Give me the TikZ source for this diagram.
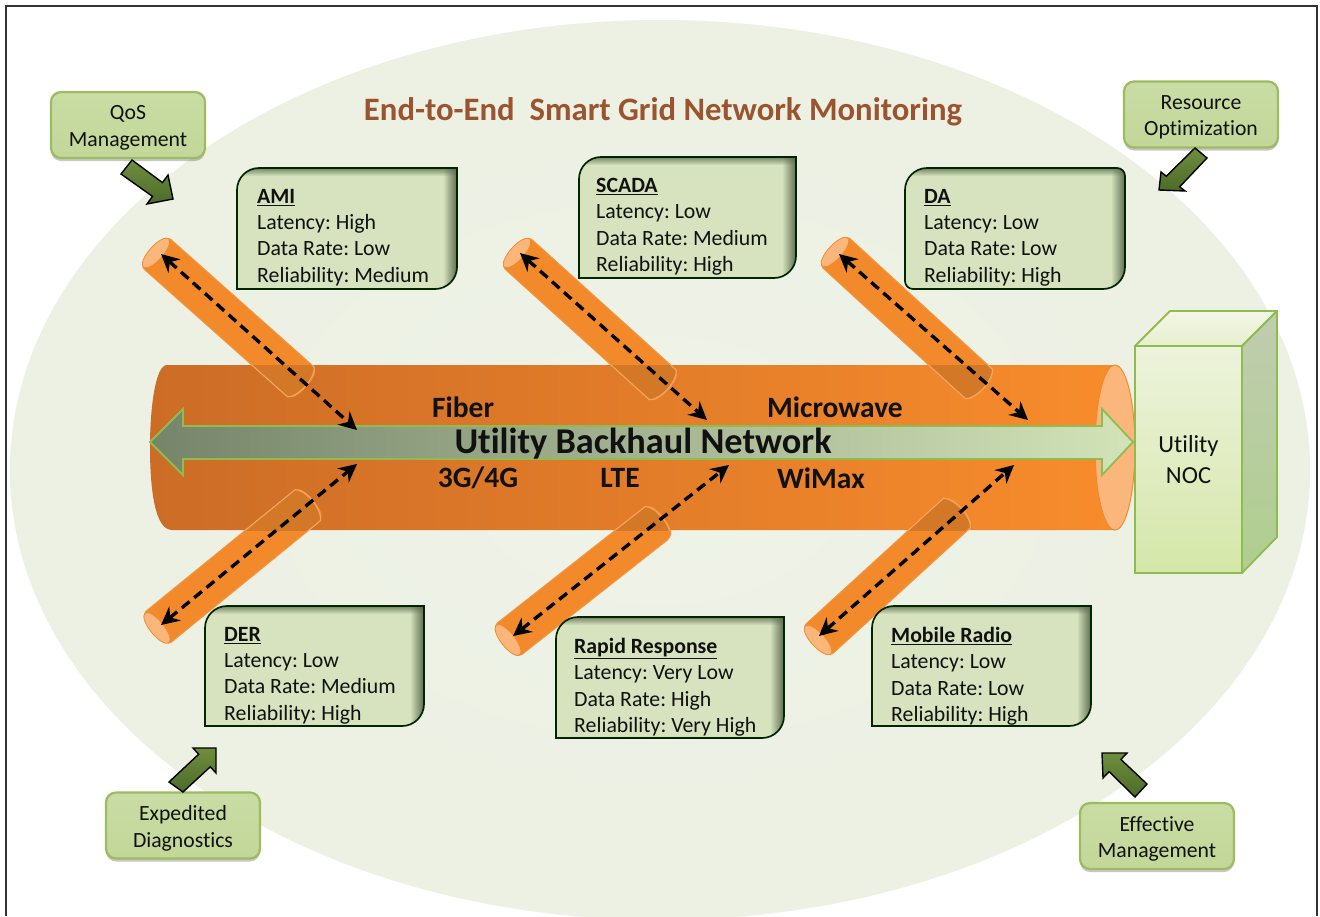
\documentclass[tikz,border=0pt]{standalone}
\usepackage{fontspec}
\setmainfont[Ligatures=NoCommon]{Carlito}
\usetikzlibrary{arrows.meta,shadows,calc,fadings}
\definecolor{pipeL}{HTML}{CC6C26}
\definecolor{pipeM}{HTML}{E67F2A}
\definecolor{pipeR}{HTML}{F88C2C}
\definecolor{capc}{HTML}{FBB67C}
\definecolor{tubec}{HTML}{F28A2C}
\definecolor{tubeedge}{HTML}{F6A660}
\definecolor{boxfill}{HTML}{D6E3BE}
\definecolor{boxdark}{HTML}{5E6B50}
\definecolor{gfill}{HTML}{C3D799}
\definecolor{gfilltop}{HTML}{C9DCA4}
\definecolor{gedge}{HTML}{9DBB61}
\definecolor{titlec}{HTML}{9A5530}
\definecolor{arrowedge}{HTML}{8FBC4F}
\definecolor{textc}{HTML}{111111}
\definecolor{arrL}{HTML}{76856A}
\definecolor{arrM}{HTML}{A8B896}
\definecolor{arrR}{HTML}{D2E3B8}
\definecolor{haloA}{HTML}{EFF3E8}
\definecolor{haloB}{HTML}{EBF0E2}
\definecolor{haloC}{HTML}{E6EDD9}
\definecolor{nocTopA}{HTML}{F3F7E8}
\definecolor{nocTopB}{HTML}{E6EFCF}
\definecolor{nocSideA}{HTML}{C0CCB0}
\definecolor{nocSideB}{HTML}{AFCE8F}
\definecolor{nocFrontA}{HTML}{EDF3DC}
\definecolor{nocFrontB}{HTML}{D5E7A9}
\definecolor{gaDark}{HTML}{4C6B28}
\definecolor{gaLight}{HTML}{6E8E3E}
\pgfdeclareradialshading{halo}{\pgfpoint{0bp}{0bp}}{
  color(0bp)=(haloA);
  color(30bp)=(haloB);
  color(43bp)=(haloC);
  color(50bp)=(white);
  color(100bp)=(white)}
\tikzset{
  x=1pt,y=-1pt,
  lbl/.style={font=\fontsize{29.5}{32}\selectfont\bfseries,text=textc,inner sep=0pt},
  notebox/.style={draw=gedge,line width=2.2pt,rounded corners=10pt,top color=gfilltop,bottom color=gfill,
     minimum width=154pt,minimum height=66pt,inner sep=0pt,
     general shadow={shadow xshift=0pt,shadow yshift=-3pt,fill=black,opacity=.22}},
  notetext/.style={align=center,inner sep=0pt,text=textc,yshift=-3pt,font=\fontsize{21.7}{26.5}\selectfont},
  dasharrow/.style={line width=3.4pt,dash pattern=on 10pt off 6pt,black,
     {Stealth[length=18pt,width=18pt,inset=6pt]}-{Stealth[length=18pt,width=18pt,inset=6pt]}},
  infotext/.style={anchor=north west,align=left,inner sep=0pt,text=textc,font=\fontsize{21.8}{26.3}\selectfont},
  garrow/.style={draw=black,line width=1.4pt,line join=miter,top color=gaLight,bottom color=gaDark}
}
% tube: x0 y0 x1 y1
\newcommand\tube[4]{%
  \pgfmathsetmacro\tubeang{atan2(#4-#2,#3-#1)}%
  \pgfmathsetmacro\tubelen{veclen(#3-#1,#4-#2)}%
  \begin{scope}[shift={(#1,#2)},rotate=-\tubeang]
    \draw[tubec!90!white,line width=1pt,fill=tubec,rounded corners=4pt] (-2,-20) -- (\tubelen,-20)
       .. controls (\tubelen+8,-12) and (\tubelen+8,12) .. (\tubelen,20) -- (-2,20) -- cycle;
    \draw[tubec,line width=.8pt,fill=capc] (0,0) ellipse (7 and 19);
  \end{scope}
  \begin{scope}
    \clip (150,365) rectangle (1135,530);
    \begin{scope}[shift={(#1,#2)},rotate=-\tubeang]
      \fill[black,opacity=.13] (0,-20) -- (\tubelen,-20)
       .. controls (\tubelen+8,-12) and (\tubelen+8,12) .. (\tubelen,20) -- (0,20) -- cycle;
      \draw[tubeedge,line width=1pt] (0,-20) -- (\tubelen,-20)
       .. controls (\tubelen+8,-12) and (\tubelen+8,12) .. (\tubelen,20) -- (0,20);
    \end{scope}
  \end{scope}}
% rbox: x1 y1 x2 y2 tl tr br bl radii
\newcommand\rboxpath[8]{(#1+#5,#2) -- (#3-#6,#2) .. controls (#3-.45*#6,#2) and (#3,#2+.45*#6) .. (#3,#2+#6) -- (#3,#4-#7)
       .. controls (#3,#4-.45*#7) and (#3-.45*#7,#4) .. (#3-#7,#4) -- (#1+#8,#4) .. controls (#1+.45*#8,#4) and (#1,#4-.45*#8) .. (#1,#4-#8)
       -- (#1,#2+#5) .. controls (#1,#2+.45*#5) and (#1+.45*#5,#2) .. (#1+#5,#2) -- cycle}
\newcommand\rbox[8]{%
  \begin{scope}
    \clip (#1+#5,#2) -- (#3-#6,#2) .. controls (#3-.45*#6,#2) and (#3,#2+.45*#6) .. (#3,#2+#6) -- (#3,#4-#7)
       .. controls (#3,#4-.45*#7) and (#3-.45*#7,#4) .. (#3-#7,#4) -- (#1+#8,#4) .. controls (#1+.45*#8,#4) and (#1,#4-.45*#8) .. (#1,#4-#8)
       -- (#1,#2+#5) .. controls (#1,#2+.45*#5) and (#1+.45*#5,#2) .. (#1+#5,#2) -- cycle;
    \fill[boxfill] (#1,#2) rectangle (#3,#4);
    \fill[boxdark,path fading=west] (#3-14,#2) rectangle (#3,#4);
    \fill[boxdark,path fading=south,opacity=.8] (#1,#2) rectangle (#3,#2+8);
  \end{scope}
  \draw[black!85!green,line width=1.7pt] (#1+#5,#2) -- (#3-#6,#2) .. controls (#3-.45*#6,#2) and (#3,#2+.45*#6) .. (#3,#2+#6) -- (#3,#4-#7)
       .. controls (#3,#4-.45*#7) and (#3-.45*#7,#4) .. (#3-#7,#4) -- (#1+#8,#4) .. controls (#1+.45*#8,#4) and (#1,#4-.45*#8) .. (#1,#4-#8)
       -- (#1,#2+#5) .. controls (#1,#2+.45*#5) and (#1+.45*#5,#2) .. (#1+#5,#2) -- cycle;}
\newcommand\boxtitle[1]{\textbf{\underline{#1}}}
\begin{document}
\begin{tikzpicture}
\frenchspacing
\useasboundingbox (0,0) rectangle (1320,916);
\fill[white] (0,0) rectangle (1320,916);
% halo
\shade[shading=halo] (660,470) ellipse (650 and 450);
\draw[black!80,line width=2pt] (6,916) -- (6,6) -- (1317,6) -- (1317,916);
% main pipe
\shade[left color=pipeL,middle color=pipeM,right color=pipeR]
  (167,365) .. controls (155,365) and (150,410) .. (150,447) .. controls (150,490) and (155,530) .. (172,530)
  -- (1115,530) -- (1115,365) -- cycle;
\fill[capc,draw=tubec,line width=1pt] (1115,447.5) ellipse (20 and 82.5);
% main double arrow
\coordinate (arrLeft) at (150,442);
\coordinate (arrRight) at (1133,442);
\shade[left color=arrL,middle color=arrM,right color=arrR,draw=arrowedge,line width=1.8pt,line join=miter]
  (arrLeft) -- (183,409) -- (183,426) -- (1102,426) -- (1102,409) -- (arrRight) -- (1102,475) -- (1102,459) -- (183,459) -- (183,475) -- cycle;
% NOC
\shade[draw=arrowedge,line width=1.8pt,top color=nocTopA,bottom color=nocTopB,line join=round] (1135,346) -- (1170,311) -- (1277,311) -- (1242,346) -- cycle;
\shade[draw=arrowedge,line width=1.8pt,top color=nocSideA,bottom color=nocSideB,line join=round] (1242,346) -- (1277,311) -- (1277,537) -- (1242,573) -- cycle;
\node[draw=arrowedge,line width=1.8pt,top color=nocFrontA,bottom color=nocFrontB,
  minimum width=107pt,minimum height=227pt,inner sep=0pt,align=center,text=textc,font=\fontsize{24.5}{31}\selectfont] (noc) at (1188.5,459.5) {Utility\\NOC};
% tubes
\tube{156}{253}{301}{382}
\tube{517}{253}{663}{385}
\tube{835}{252}{979}{384}
\tube{157}{628}{308}{505}
\tube{508}{640}{658}{522}
\tube{818}{640}{957}{513}
% dashed links
\coordinate (amiA) at (161,254);  \coordinate (amiB) at (357,430);
\coordinate (scaA) at (520,253);  \coordinate (scaB) at (707,420);
\coordinate (daA) at (839,254);   \coordinate (daB) at (1028,420);
\coordinate (derA) at (161,625);  \coordinate (derB) at (357,464);
\coordinate (rapA) at (513,636);  \coordinate (rapB) at (729,465);
\coordinate (mobA) at (819,636);  \coordinate (mobB) at (1014,465);
\draw[dasharrow] (amiA) -- (amiB);
\draw[dasharrow] (scaA) -- (scaB);
\draw[dasharrow] (daA) -- (daB);
\draw[dasharrow] (derA) -- (derB);
\draw[dasharrow] (rapA) -- (rapB);
\draw[dasharrow] (mobA) -- (mobB);
% labels
\node[font=\fontsize{32.7}{36}\selectfont\bfseries,text=titlec,inner sep=0pt] (title) at (663,112) {End-to-End\ \ Smart Grid Network Monitoring};
\node[lbl] (fiber) at (463,407) {Fiber};
\node[lbl] (micro) at (835,407) {Microwave};
\node[lbl,font=\fontsize{36.3}{40}\selectfont\bfseries] (ubn) at (643,444) {Utility Backhaul Network};
\node[lbl] (g34) at (478,478) {3G/4G};
\node[lbl] (lte) at (620,478) {LTE};
\node[lbl] (wimax) at (821,478) {WiMax};
% info boxes
\rbox{237}{168}{457}{289}{22}{0}{22}{0}
\node[infotext] (ami) at (257,189) {\boxtitle{AMI}\\Latency: High\\Data Rate: Low\\Reliability: Medium};
\rbox{579}{157}{796}{278}{22}{0}{22}{0}
\node[infotext] (scada) at (596,178) {\boxtitle{SCADA}\\Latency: Low\\Data Rate: Medium\\Reliability: High};
\rbox{905}{168}{1125}{289}{22}{8}{22}{8}
\node[infotext] (da) at (924,189) {\boxtitle{DA}\\Latency: Low\\Data Rate: Low\\Reliability: High};
\rbox{205}{606}{424}{726}{22}{0}{22}{0}
\node[infotext] (der) at (224,627) {\boxtitle{DER}\\Latency: Low\\Data Rate: Medium\\Reliability: High};
\rbox{556}{617}{784}{738}{22}{0}{22}{0}
\node[infotext] (rapid) at (574,638) {\boxtitle{Rapid Response}\\Latency: Very Low\\Data Rate: High\\Reliability: Very High};
\rbox{872}{606}{1091}{726}{22}{0}{22}{0}
\node[infotext] (mobile) at (891,627) {\boxtitle{Mobile Radio}\\Latency: Low\\Data Rate: Low\\Reliability: High};
% note boxes
\node[notebox,label={[notetext,name=qosT]center:QoS\\Management}] (qos) at (128,125) {};
\node[notebox,label={[notetext,name=resT]center:Resource\\Optimization}] (res) at (1201,114.5) {};
\node[notebox,label={[notetext,name=expT]center:Expedited\\Diagnostics}] (exp) at (183,825.5) {};
\node[notebox,label={[notetext,name=effT]center:Effective\\Management}] (eff) at (1157,836) {};
% green arrows
\shade[garrow] (132,160) -- (162.5,182.6) -- (168,175) -- (173,199) -- (147,204) -- (152.5,196.4) -- (121,174) -- cycle;
\shade[garrow] (1195,148) -- (1166.3,176.2) -- (1161,172) -- (1159,190) -- (1185,191) -- (1179.7,186.8) -- (1207,158) -- cycle;
\shade[garrow] (169,782) -- (198.7,754.2) -- (193,748) -- (216,748) -- (216,773) -- (210.3,766.8) -- (183,792) -- cycle;
\shade[garrow] (1147,784) -- (1120.9,759.4) -- (1127,753) -- (1102,753) -- (1103,778) -- (1109.1,771.6) -- (1135,797) -- cycle;
\end{tikzpicture}
\end{document}
